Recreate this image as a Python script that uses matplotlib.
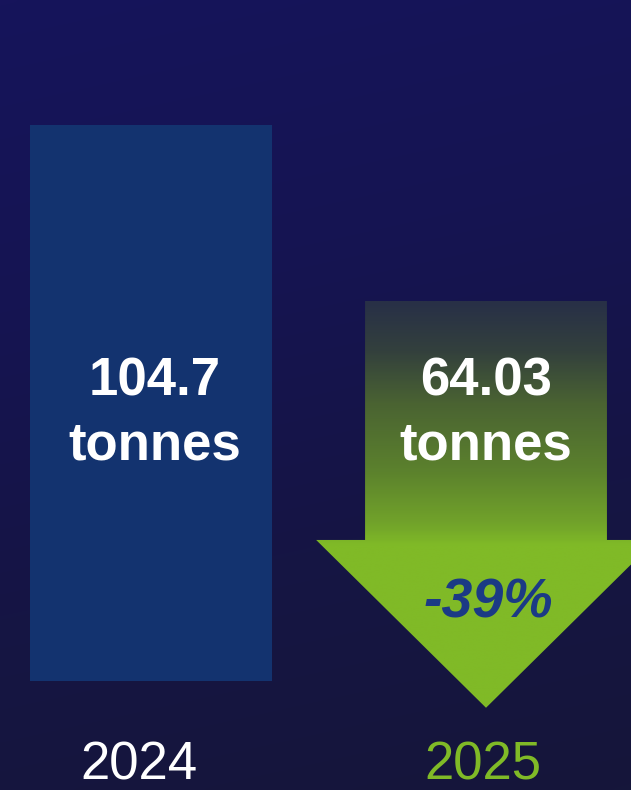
import matplotlib.pyplot as plt
import numpy as np
from matplotlib.colors import LinearSegmentedColormap
from matplotlib.patches import Polygon

# Data
years = ['2024', '2025']
tonnes = [104.7, 64.03]
change_label = '-39%'

W, H = 631, 790
XL = (-0.4507, 1.4328)
YL = (-49.0, 133.55)
fig = plt.figure(figsize=(W / 100, H / 100), dpi=100)
ax = fig.add_axes([0, 0, 1, 1])
ax.axis('off')

# background gradient (violet-navy at top to dark navy at bottom)
bg_cmap = LinearSegmentedColormap.from_list('bg', ['#16145b', '#151452', '#151544', '#15163a'])
gy, gx = np.mgrid[0:1:200j, 0:1:200j]
ax.imshow(gy * 0.85 + gx * 0.15, cmap=bg_cmap, extent=(XL[0], XL[1], YL[0], YL[1]),
          origin='upper', aspect='auto', zorder=0, interpolation='bicubic')

floor = -23.8       # bottom of the 2024 bar
bar_w = 0.722
head_base = 8.78
tip = -30.0
head_half = 0.507

# 2024 bar
ax.bar(0, tonnes[0] - floor, bottom=floor, width=bar_w, color='#13336f', zorder=2)

# 2025 arrow
x1 = 1
pts = [(x1 - bar_w / 2, tonnes[1]), (x1 + bar_w / 2, tonnes[1]),
       (x1 + bar_w / 2, head_base), (x1 + head_half, head_base),
       (x1, tip), (x1 - head_half, head_base), (x1 - bar_w / 2, head_base)]
arrow = Polygon(pts, closed=True, facecolor='none', edgecolor='none', zorder=2)
ax.add_patch(arrow)
ar_cmap = LinearSegmentedColormap.from_list(
    'ar', [(0, '#283047'), (0.12, '#33403d'), (0.25, '#4a6332'), (0.42, '#5c822d'),
           (0.55, '#72a42a'), (0.6, '#80ba27'), (1, '#80ba27')])
grad = np.linspace(0, 1, 300).reshape(-1, 1)
im = ax.imshow(grad, cmap=ar_cmap, extent=(x1 - head_half, x1 + head_half, tip, tonnes[1]),
               aspect='auto', zorder=2, origin='upper', interpolation='bicubic')
im.set_clip_path(arrow)
ax.set_xlim(*XL)
ax.set_ylim(*YL)

tr = ax.get_xaxis_transform()
font = 'Liberation Sans'
for i, v in enumerate(tonnes):
    xo = 0.012 if i == 0 else 0
    ax.text(i + xo, 1 - 396 / H, f'{v:g}', transform=tr, ha='center', va='baseline',
            color='white', fontsize=38, fontweight='bold', family=font, zorder=3)
    ax.text(i + xo, 1 - 460 / H, 'tonnes', transform=tr, ha='center', va='baseline',
            color='white', fontsize=38, fontweight='bold', family=font, zorder=3)

ax.text(1.006, 1 - 617 / H, change_label, transform=tr, ha='center', va='baseline',
        color='#1b3a85', fontsize=40, fontweight='bold', fontstyle='italic', family=font, zorder=3)

year_colors = ['white', '#80ba27']
ax.text(-0.036, 1 - 780 / H, years[0], transform=tr, ha='center', va='baseline',
        color=year_colors[0], fontsize=38, family=font, zorder=3)
ax.text(0.992, 1 - 780 / H, years[1], transform=tr, ha='center', va='baseline',
        color=year_colors[1], fontsize=38, family=font, zorder=3)

fig.savefig('out.png', dpi=100)
